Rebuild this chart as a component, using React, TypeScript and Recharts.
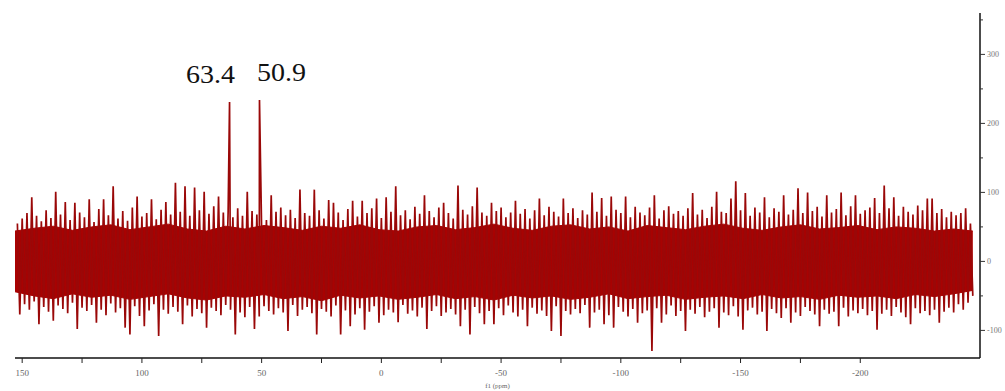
import React from 'react';
import { ComposedChart, Line, Area, XAxis, YAxis, ReferenceDot } from 'recharts';

// Upper noise spikes, sampled at ppm 152, 150, ..., -246
const upperNoise: number[] = [
  55, 62, 70, 93, 66, 58, 74, 63, 101, 68,
  86, 60, 85, 71, 64, 90, 57, 76, 90, 67,
  109, 62, 73, 59, 78, 94, 65, 70, 90, 61,
  75, 86, 68, 114, 72, 109, 66, 107, 74, 101,
  69, 80, 94, 71, 70, 64, 77, 66, 101, 73,
  68, 45, 60, 96, 72, 78, 67, 75, 63, 104,
  70, 66, 104, 74, 62, 89, 85, 71, 60, 76,
  88, 65, 88, 70, 77, 91, 63, 93, 72, 109,
  67, 74, 61, 79, 69, 96, 73, 64, 78, 85,
  70, 62, 110, 75, 68, 80, 107, 71, 66, 85,
  73, 78, 64, 71, 88, 69, 76, 62, 74, 91,
  67, 79, 72, 65, 91, 70, 77, 63, 74, 68,
  100, 72, 92, 66, 94, 75, 70, 94, 64, 79,
  71, 67, 78, 96, 62, 74, 80, 69, 73, 66,
  77, 99, 68, 75, 63, 79, 101, 72, 70, 91,
  116, 74, 99, 66, 78, 71, 93, 64, 77, 72,
  96, 68, 75, 106, 70, 100, 73, 79, 65, 96,
  71, 76, 100, 67, 80, 96, 69, 74, 78, 92,
  70, 110, 77, 93, 66, 79, 72, 68, 81, 74,
  91, 91, 70, 76, 64, 72, 67, 70, 77, 55,
];

// Lower noise spikes, sampled at ppm 151, 149, ..., -247
const lowerNoise: number[] = [
  -77, -62, -70, -58, -91, -66, -73, -86, -64, -69,
  -75, -60, -98, -67, -72, -63, -89, -70, -78, -61,
  -74, -68, -96, -106, -65, -79, -94, -71, -62, -108,
  -70, -76, -66, -73, -91, -64, -80, -69, -75, -96,
  -67, -72, -78, -63, -70, -106, -74, -81, -66, -98,
  -80, -65, -72, -77, -68, -74, -101, -63, -79, -70,
  -66, -75, -106, -69, -73, -80, -64, -106, -71, -94,
  -77, -68, -99, -73, -65, -89, -78, -70, -74, -88,
  -63, -76, -71, -80, -67, -98, -72, -65, -79, -74,
  -69, -77, -94, -70, -106, -66, -75, -91, -72, -91,
  -68, -78, -64, -74, -80, -70, -94, -67, -76, -71,
  -79, -101, -65, -108, -72, -77, -69, -75, -63, -96,
  -74, -70, -91, -78, -96, -66, -73, -80, -69, -89,
  -75, -71, -130, -68, -89, -77, -64, -79, -72, -101,
  -70, -76, -66, -81, -73, -68, -96, -74, -78, -65,
  -80, -99, -71, -67, -77, -73, -101, -69, -75, -82,
  -68, -89, -74, -79, -66, -72, -77, -94, -70, -76,
  -73, -94, -67, -80, -71, -75, -69, -78, -72, -99,
  -76, -70, -79, -66, -74, -81, -91, -68, -75, -72,
  -78, -70, -89, -73, -67, -74, -62, -70, -60, -50,
];

// Solid noise core (dense band), sampled at ppm 153, 145, ..., -247
const coreTop: number[] = [
  44, 48, 51, 45, 50, 53, 46, 50, 54, 47,
  44, 51, 47, 52, 49, 45, 51, 48, 53, 46,
  44, 50, 52, 46, 49, 54, 48, 45, 51, 53,
  47, 50, 44, 52, 49, 46, 51, 54, 48, 45,
  50, 53, 47, 49, 52, 46, 50, 48, 44, 47,
  44,
];
const coreBottom: number[] = [
  -44, -50, -54, -47, -52, -49, -55, -51, -47, -53,
  -56, -50, -52, -48, -54, -51, -57, -49, -53, -50,
  -55, -52, -48, -54, -51, -56, -49, -53, -50, -55,
  -52, -47, -54, -51, -49, -55, -52, -50, -54, -48,
  -53, -51, -55, -49, -52, -50, -54, -48, -51, -47,
  -42,
];

const UPPER_START = 152;
const LOWER_START = 151;
const STEP = 2;
const CORE_START = 153;
const CORE_STEP = 8;

const peakPpm: number[] = [63.4, 50.9];
const peakHeight: number[] = [231, 234];
const peakLabels: string[] = ['63.4', '50.9'];
const peakLabelShift: number[] = [-19, 22];

const xTicks: number[] = [150, 125, 100, 75, 50, 25, 0, -25, -50, -75, -100, -125, -150, -175, -200];
const yTicks: number[] = [350, 300, 250, 200, 150, 100, 50, 0, -50, -100];

const table = [
  ...upperNoise.map((v, k) => ({ ppm: UPPER_START - STEP * k, v })),
  ...lowerNoise.map((v, j) => ({ ppm: LOWER_START - STEP * j, v })),
  ...peakPpm.map((p, i) => ({ ppm: p, v: peakHeight[i] })),
].sort((a, b) => b.ppm - a.ppm);

const coreTable = coreTop.map((t, i) => ({
  ppm: CORE_START - CORE_STEP * i,
  band: [coreBottom[i], t],
}));

const XTick = (props: any) => {
  const { x, y, payload } = props;
  const major = payload.value % 50 === 0;
  return (
    <g>
      <line x1={x} x2={x} y1={y} y2={y + 5} stroke="#222" strokeWidth={1} />
      {major && (
        <text x={x} y={y + 18} textAnchor="middle" fontSize={9} fill="#666" fontFamily="'Liberation Serif', serif">
          {payload.value}
        </text>
      )}
    </g>
  );
};

const YTick = (props: any) => {
  const { x, y, payload } = props;
  const major = payload.value % 100 === 0;
  return (
    <g>
      <line x1={x} x2={x + (major ? 5 : 3)} y1={y} y2={y} stroke="#333" strokeWidth={1} />
      {major && (
        <text x={x + 7} y={y + 3} textAnchor="start" fontSize={8} fill="#777" fontFamily="'Liberation Serif', serif">
          {payload.value}
        </text>
      )}
    </g>
  );
};

const PeakLabel = (props: any) => {
  const { viewBox, text, shift } = props;
  const cx = viewBox.x + viewBox.width / 2;
  const cy = viewBox.y + viewBox.height / 2;
  return (
    <text
      x={cx + shift}
      y={cy - 19}
      textAnchor="middle"
      fontSize={25}
      fill="#111"
      fontFamily="'Liberation Serif', serif"
      textLength={49}
      lengthAdjust="spacingAndGlyphs"
    >
      {text}
    </text>
  );
};

export default function App() {
  return (
    <div style={{ position: 'absolute', left: 0, top: 0, width: 1005, height: 391, background: '#fff' }}>
      <ComposedChart
        width={1005}
        height={391}
        data={table}
        margin={{ top: 13, right: 0, bottom: 0, left: 15 }}
      >
        <XAxis
          dataKey="ppm"
          type="number"
          domain={[-250, 153]}
          reversed
          allowDataOverflow
          ticks={xTicks}
          interval={0}
          height={33}
          tickSize={0}
          tickMargin={0}
          tickLine={false}
          tick={<XTick />}
          axisLine={{ stroke: '#111', strokeWidth: 1.5 }}
          label={{ value: 'f1 (ppm)', position: 'insideBottom', offset: 3, fontSize: 7, fill: '#666', fontFamily: "'Liberation Serif', serif" }}
        />
        <YAxis
          orientation="right"
          type="number"
          domain={[-140, 360]}
          allowDataOverflow
          ticks={yTicks}
          interval={0}
          width={25}
          tickSize={0}
          tickMargin={0}
          tickLine={false}
          tick={<YTick />}
          axisLine={{ stroke: '#111', strokeWidth: 1.5 }}
        />
        <Area
          data={coreTable}
          dataKey="band"
          type="linear"
          fill="#a80202"
          fillOpacity={1}
          stroke="#a80202"
          strokeWidth={1}
          dot={false}
          activeDot={false}
          isAnimationActive={false}
        />
        <Line
          dataKey="v"
          type="linear"
          stroke="#9a0808"
          strokeWidth={1.7}
          dot={false}
          activeDot={false}
          isAnimationActive={false}
        />
        {peakPpm.map((p, i) => (
          <ReferenceDot
            key={p}
            x={p}
            y={peakHeight[i]}
            r={1}
            fill="none"
            stroke="none"
            label={<PeakLabel text={peakLabels[i]} shift={peakLabelShift[i]} />}
          />
        ))}
      </ComposedChart>
    </div>
  );
}
